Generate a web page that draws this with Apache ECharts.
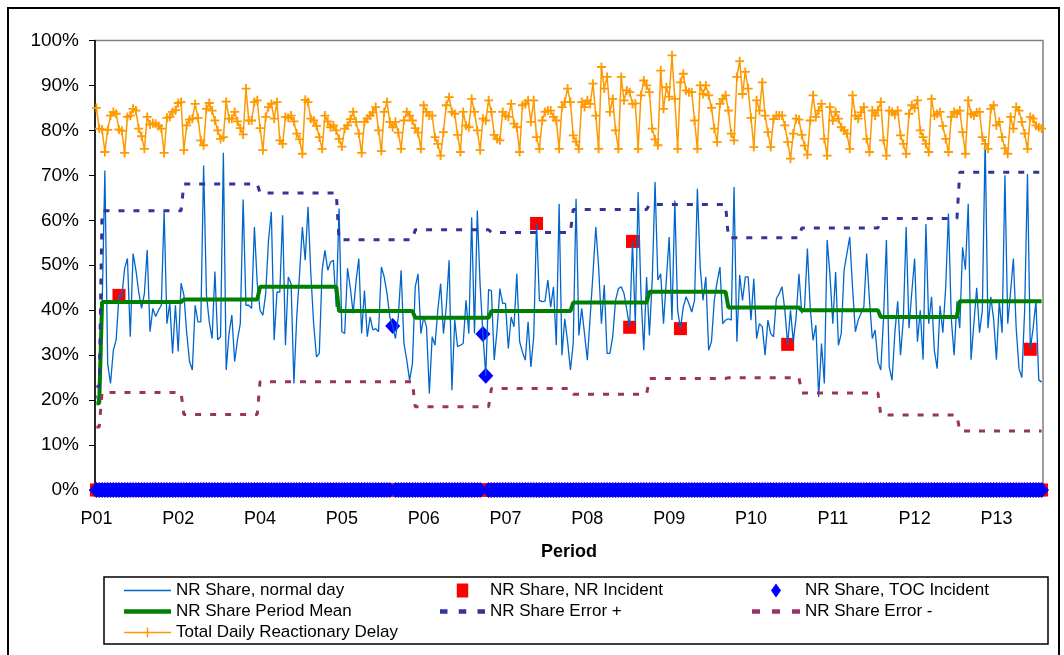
<!DOCTYPE html>
<html>
<head>
<meta charset="utf-8">
<title>NR Share of Reactionary Delay</title>
<script src="https://cdn.jsdelivr.net/npm/echarts@6/dist/echarts.min.js"></script>
<style>
html, body { margin: 0; padding: 0; background: #fff; }
#chart { width: 1064px; height: 655px; }
</style>
</head>
<body>
<div id="chart"></div>
<script>
// periods and how many days each one covers
const periodNames = ['P01', 'P02', 'P03', 'P04', 'P05', 'P06', 'P07', 'P08', 'P09', 'P10', 'P11', 'P12', 'P13']
const periodDays = [2, 29, 27, 28, 27, 27, 29, 27, 28, 26, 28, 28, 30]

// per period values (%)
const periodMean = [19.3, 41.8, 42.4, 45.2, 39.8, 38.3, 39.8, 41.7, 44.1, 40.6, 40.0, 38.5, 42.0]
const errorPlus = [23.0, 62.1, 68.1, 66.1, 55.7, 57.9, 57.3, 62.4, 63.5, 56.1, 58.3, 60.4, 70.7]
const errorMinus = [14.0, 21.7, 16.8, 24.1, 24.1, 18.5, 22.6, 21.3, 24.8, 25.0, 21.6, 16.7, 13.1]

// daily NR share (%)
const nrShare = [
  21.0, 19.0, 40.0, 71.1, 28.0, 23.7, 31.1, 33.4, 43.3, 43.0,
  49.3, 51.5, 34.1, 52.6, 48.9, 44.0, 40.4, 43.7, 53.4, 35.2,
  40.4, 38.6, 40.0, 41.1, 62.0, 37.0, 41.5, 30.4, 41.1, 30.8,
  46.0, 43.4, 35.0, 28.6, 26.7, 41.1, 37.4, 37.4, 72.2, 43.4,
  37.4, 33.7, 48.6, 33.4, 34.1, 75.0, 26.7, 34.8, 38.9, 28.6,
  33.4, 37.0, 64.6, 41.1, 41.1, 40.4, 58.5, 46.0, 40.0, 38.9,
  43.7, 55.6, 61.9, 33.3, 44.1, 44.0, 61.1, 32.2, 47.4, 45.9,
  23.7, 38.5, 48.0, 58.5, 51.1, 63.0, 48.1, 37.0, 29.6, 30.4,
  48.9, 53.3, 48.9, 50.7, 51.1, 40.7, 62.6, 35.2, 34.8, 49.3,
  45.0, 39.3, 46.3, 51.5, 34.8, 44.4, 34.1, 38.5, 35.6, 35.9,
  35.2, 49.6, 47.4, 43.7, 38.5, 36.5, 33.7, 38.5, 48.9, 32.6,
  28.9, 24.4, 28.1, 45.2, 48.1, 34.8, 38.5, 36.3, 21.5, 34.1,
  32.2, 40.0, 45.9, 34.8, 40.7, 51.1, 22.2, 37.8, 31.9, 32.2,
  32.6, 42.2, 34.8, 60.7, 34.8, 62.2, 45.6, 34.7, 25.4, 44.6,
  44.3, 28.9, 35.6, 44.8, 41.5, 41.5, 31.5, 38.5, 36.3, 48.1,
  33.0, 30.7, 28.9, 37.4, 27.4, 34.1, 59.3, 42.2, 41.9, 42.0,
  46.7, 40.7, 45.2, 32.2, 63.7, 30.0, 38.1, 33.0, 26.7, 32.6,
  64.8, 34.4, 40.4, 34.8, 28.9, 38.5, 48.1, 58.5, 49.6, 37.0,
  45.6, 30.4, 30.4, 34.1, 42.2, 44.8, 45.2, 43.7, 40.0, 36.2,
  55.3, 37.0, 66.3, 43.7, 31.1, 47.4, 34.4, 46.7, 68.5, 46.7,
  48.1, 37.0, 46.7, 56.3, 37.8, 64.4, 40.0, 35.9, 40.7, 43.0,
  41.5, 39.6, 42.2, 67.0, 49.6, 42.2, 47.4, 31.1, 33.0, 42.2,
  46.3, 49.6, 37.0, 37.8, 38.1, 37.8, 67.4, 33.0, 47.8, 42.2,
  47.4, 47.4, 37.8, 47.0, 33.7, 37.0, 36.3, 30.0, 37.8, 34.8,
  34.1, 42.6, 43.7, 45.2, 40.0, 32.4, 40.0, 33.0, 38.5, 48.1,
  39.3, 40.7, 53.7, 40.4, 33.3, 36.7, 20.7, 32.6, 23.7, 55.6,
  47.8, 37.0, 48.5, 32.2, 34.8, 48.9, 52.6, 56.3, 45.0, 35.2,
  37.8, 39.3, 40.7, 52.6, 42.2, 33.7, 35.6, 28.5, 26.7, 38.5,
  55.6, 27.4, 24.4, 35.0, 42.0, 30.0, 38.0, 58.5, 36.0, 44.0,
  51.5, 33.0, 40.0, 29.0, 59.2, 37.0, 43.0, 31.0, 27.0, 41.0,
  35.0, 45.0, 61.5, 38.0, 30.0, 42.0, 36.0, 54.0, 49.0, 63.7,
  29.0, 37.0, 45.0, 35.0, 40.0, 78.1, 36.0, 43.0, 38.0, 29.0,
  42.0, 35.0, 70.0, 37.0, 44.0, 51.5, 36.0, 27.0, 25.0, 40.0,
  70.3, 31.3, 36.0, 42.0, 24.5, 24.0
]

// daily total reactionary delay (%)
const totalDelay = [
  85.0, 80.4, 80.2, 75.2, 80.1, 83.3, 84.1, 83.7, 80.2, 79.9,
  75.0, 83.0, 83.3, 84.8, 84.4, 80.4, 78.7, 75.9, 83.0, 81.3,
  81.6, 81.5, 81.0, 80.4, 75.0, 82.8, 83.0, 84.1, 84.5, 86.1,
  86.3, 75.6, 81.1, 82.4, 82.6, 85.9, 82.8, 77.8, 76.7, 84.8,
  86.1, 84.4, 82.2, 80.0, 78.1, 78.5, 86.4, 82.6, 82.6, 84.1,
  82.0, 80.5, 79.1, 89.3, 82.2, 82.2, 86.3, 86.7, 80.5, 75.6,
  83.0, 85.2, 85.9, 82.6, 86.3, 77.8, 77.0, 83.0, 82.8, 83.3,
  82.0, 79.3, 78.0, 74.8, 86.8, 86.3, 82.6, 82.2, 81.0, 78.5,
  75.9, 83.3, 82.0, 80.7, 81.1, 80.0, 78.1, 76.4, 80.4, 81.1,
  82.5, 84.1, 81.9, 79.3, 75.0, 81.9, 82.6, 83.3, 84.0, 85.2,
  80.0, 75.4, 84.1, 86.3, 81.9, 80.7, 81.9, 79.5, 75.9, 82.2,
  84.1, 83.3, 82.2, 80.5, 79.5, 75.9, 85.6, 84.1, 83.3, 83.3,
  78.5, 77.0, 74.4, 79.6, 85.6, 87.4, 84.1, 83.7, 79.0, 75.2,
  84.1, 81.1, 80.7, 87.0, 84.1, 80.0, 75.6, 82.6, 82.2, 86.7,
  84.1, 79.0, 78.1, 77.8, 84.1, 83.3, 83.0, 85.9, 81.5, 80.7,
  75.2, 85.6, 85.9, 86.7, 81.9, 86.7, 78.5, 75.9, 82.2, 84.1,
  84.4, 84.4, 83.0, 82.2, 75.9, 85.2, 86.3, 89.3, 86.3, 78.9,
  77.5, 75.9, 86.3, 85.2, 86.7, 85.9, 90.4, 83.3, 75.9, 94.1,
  89.3, 91.9, 84.1, 87.0, 80.0, 75.9, 91.9, 86.7, 88.9, 88.5,
  85.9, 86.0, 75.9, 87.8, 91.1, 90.0, 88.5, 80.4, 78.0, 76.7,
  93.3, 84.8, 89.6, 87.5, 96.7, 87.0, 75.9, 90.7, 92.6, 88.9,
  88.5, 88.5, 82.2, 75.9, 90.0, 88.1, 90.0, 87.8, 85.0, 80.4,
  77.4, 85.9, 87.0, 87.8, 84.4, 79.3, 77.8, 91.9, 95.4, 88.1,
  93.0, 89.3, 82.8, 76.3, 86.7, 84.4, 90.7, 83.3, 79.6, 76.3,
  82.5, 83.3, 83.3, 83.3, 81.1, 77.4, 73.7, 79.3, 82.6, 82.4,
  79.0, 76.6, 74.6, 82.2, 87.8, 83.0, 84.4, 85.9, 78.1, 74.4,
  85.2, 82.2, 84.1, 82.6, 80.7, 80.0, 79.3, 75.9, 87.8, 83.3,
  82.6, 84.0, 85.2, 78.1, 75.2, 84.4, 83.3, 84.5, 86.3, 77.8,
  74.4, 84.4, 84.1, 83.5, 84.4, 78.9, 77.0, 74.8, 83.7, 85.6,
  85.0, 86.7, 80.0, 78.5, 77.0, 75.2, 87.0, 83.3, 83.7, 84.1,
  81.0, 78.1, 75.2, 83.0, 84.1, 83.7, 84.4, 79.6, 74.8, 86.7,
  83.7, 83.3, 84.0, 84.1, 78.5, 77.0, 75.9, 84.8, 85.6, 81.1,
  81.9, 78.5, 76.0, 74.8, 83.0, 80.4, 85.2, 84.4, 81.9, 79.3,
  75.9, 83.0, 82.6, 81.1, 80.7, 80.4
]

// incident days (day index) and NR share on those days
const nrIncidentDays = [8, 156, 189, 190, 207, 245, 331]
const nrIncidentVals = [43.3, 59.3, 36.2, 55.3, 35.9, 32.4, 31.3]
const tocIncidentDays = [105, 137, 138]
const tocIncidentVals = [36.5, 34.7, 25.4]

const FONT = '"Liberation Sans", Arial, sans-serif'

// one category per day, named after its period
const dayCategories = []
periodNames.forEach((p, i) => {
  for (let d = 0; d < periodDays[i]; d++) dayCategories.push(p)
})

function perDay (vals) {
  const out = []
  periodNames.forEach((p, i) => {
    for (let d = 0; d < periodDays[i]; d++) out.push(vals[i])
  })
  return out
}

// incident series sit at 0 on every other day
function incidentPoints (days, vals) {
  const out = dayCategories.map((c, i) => [i, 0])
  days.forEach((d, k) => { out[d] = [d, vals[k]] })
  return out
}

const plusIcon = 'path://M4,0h2v4h4v2h-4v4h-2v-4h-4v-2h4z'

// legend icons drawn like the excel ones
const icons = {
  thinLine: 'path://M0,0h47v1.6h-47z',
  thickLine: 'path://M0,0h47v4.5h-47z',
  dashed: 'path://M0,0h6v3.5h-6zM15,0h6v3.5h-6zM30,0h6v3.5h-6z',
  linePlus: 'path://M0,4.25h47v1.5h-47zM22.75,0h1.5v10h-1.5zM19,4.25h9v1.5h-9z',
  square: 'path://M0,0h9v11h-9z',
  diamond: 'path://M5,0L10,7L5,14L0,7Z'
}

const legendBase = {
  orient: 'vertical',
  top: 577,
  itemHeight: 14,
  itemGap: 4,
  selectedMode: false,
  textStyle: { fontFamily: FONT, fontSize: 17, color: '#000', lineHeight: 17 }
}

const chart = echarts.init(document.getElementById('chart'))
chart.setOption({
  animation: false,
  backgroundColor: '#fff',
  textStyle: { fontFamily: FONT },
  graphic: [
    { type: 'rect', shape: { x: 8, y: 8, width: 1051, height: 660 }, style: { fill: 'none', stroke: '#000', lineWidth: 2 }, z: -1 },
    { type: 'rect', shape: { x: 104, y: 577, width: 944, height: 67 }, style: { fill: 'none', stroke: '#000', lineWidth: 1.5 }, z: -1 }
  ],
  grid: {
    left: 95,
    right: 21,
    top: 40.5,
    bottom: 165,
    show: true,
    borderColor: '#808080',
    borderWidth: 1.5
  },
  legend: [
    Object.assign({}, legendBase, {
      left: 119,
      itemWidth: 47,
      data: [
        { name: 'NR Share, normal day', icon: icons.thinLine },
        { name: 'NR Share Period Mean', icon: icons.thickLine },
        { name: 'Total Daily Reactionary Delay', icon: icons.linePlus }
      ]
    }),
    Object.assign({}, legendBase, {
      left: 435,
      itemWidth: 45,
      data: [
        { name: 'NR Share, NR Incident', icon: icons.square },
        { name: 'NR Share Error +', icon: icons.dashed }
      ]
    }),
    Object.assign({}, legendBase, {
      left: 747,
      itemWidth: 48,
      data: [
        { name: 'NR Share, TOC Incident', icon: icons.diamond },
        { name: 'NR Share Error -', icon: icons.dashed }
      ]
    })
  ],
  xAxis: {
    type: 'category',
    data: dayCategories,
    boundaryGap: true,
    axisLine: { lineStyle: { color: '#000' } },
    axisTick: { show: false },
    axisLabel: { interval: 28, fontSize: 18, color: '#000', margin: 20, fontFamily: FONT },
    name: 'Period',
    nameLocation: 'middle',
    nameGap: 53,
    nameTextStyle: { fontSize: 18, fontWeight: 'bold', color: '#000', fontFamily: FONT },
    splitLine: { show: false }
  },
  yAxis: {
    type: 'value',
    min: 0,
    max: 100,
    interval: 10,
    axisLine: { show: true, lineStyle: { color: '#000', width: 1.5 } },
    axisTick: { show: true, length: 6, lineStyle: { color: '#000' } },
    axisLabel: { formatter: '{value}%', fontSize: 19, color: '#000', margin: 16, fontFamily: FONT },
    splitLine: { show: false }
  },
  series: [
    {
      name: 'NR Share, normal day',
      type: 'line',
      data: nrShare,
      symbol: 'none',
      color: '#0066cc',
      lineStyle: { width: 1.3, color: '#0066cc' }
    },
    {
      name: 'NR Share, NR Incident',
      type: 'scatter',
      data: incidentPoints(nrIncidentDays, nrIncidentVals),
      symbol: 'rect',
      symbolSize: 13,
      itemStyle: { color: '#ff0000', opacity: 1 }
    },
    {
      name: 'NR Share, TOC Incident',
      type: 'scatter',
      data: incidentPoints(tocIncidentDays, tocIncidentVals),
      symbol: 'diamond',
      symbolSize: [15, 16],
      itemStyle: { color: '#0000ff', opacity: 1 }
    },
    {
      name: 'NR Share Period Mean',
      type: 'line',
      data: perDay(periodMean),
      symbol: 'none',
      color: '#008000',
      lineStyle: { width: 4, color: '#008000' }
    },
    {
      name: 'NR Share Error +',
      type: 'line',
      data: perDay(errorPlus),
      symbol: 'none',
      color: '#333399',
      lineStyle: { width: 3, color: '#333399', type: [6, 9] }
    },
    {
      name: 'NR Share Error -',
      type: 'line',
      data: perDay(errorMinus),
      symbol: 'none',
      color: '#993366',
      lineStyle: { width: 3, color: '#993366', type: [6, 9] }
    },
    {
      name: 'Total Daily Reactionary Delay',
      type: 'line',
      data: totalDelay,
      symbol: plusIcon,
      symbolSize: 9,
      showAllSymbol: true,
      color: '#ff9900',
      itemStyle: { color: '#ff9900' },
      lineStyle: { width: 1.5, color: '#ff9900' }
    }
  ]
})
</script>
</body>
</html>
